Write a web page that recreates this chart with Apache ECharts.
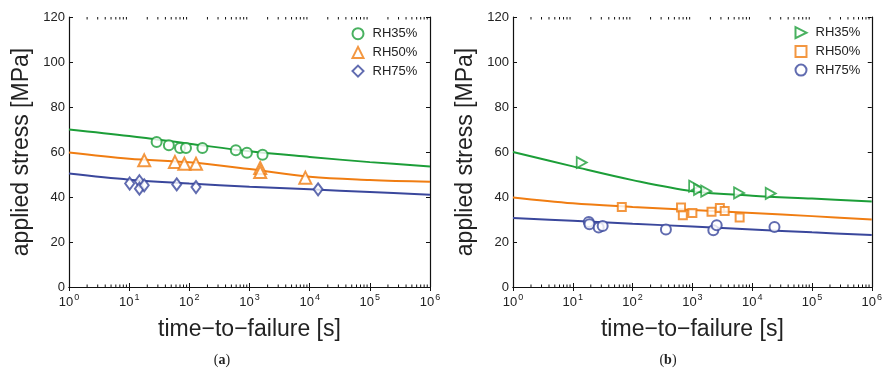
<!DOCTYPE html>
<html><head><meta charset="utf-8">
<script src="https://cdn.jsdelivr.net/npm/echarts@6/dist/echarts.min.js"></script>
<style>html,body{margin:0;padding:0;background:#fff}#c{width:885px;height:376px}</style>
</head><body><div id="c"></div>
<script>
// ---- shared axis data ----
const fitT = [1, 10, 100, 1e3, 1e4, 1e5, 1e6];
const xTickExp = ['0', '1', '2', '3', '4', '5', '6'];
const yMin = 0, yMax = 120, yStep = 20;
const legendNames = ['RH35%', 'RH50%', 'RH75%'];

// ---- panel (a) ----
const a35_t = [28.6, 45.7, 70, 88, 165, 593, 906, 1648];
const a35_s = [64.4, 63.0, 61.8, 61.8, 61.8, 60.8, 59.7, 58.8];
const a50_t = [17.8, 57.6, 82.6, 129, 1507, 1507, 8470];
const a50_s = [56.3, 55.6, 54.8, 54.8, 52.9, 51.1, 48.6];
const a75_t = [10.2, 14.8, 14.8, 17.8, 61.7, 129, 13800];
const a75_s = [46.0, 47.0, 43.7, 45.2, 45.6, 44.4, 43.4];
const a35_fit = [70, 67.1, 63.7, 60.3, 57.8, 55.5, 53.6];
const a50_fit = [59.8, 57.0, 55.4, 52.4, 49.0, 47.6, 46.8];
const a75_fit = [50.4, 47.7, 46.0, 44.6, 43.4, 42.2, 41.0];

// ---- panel (b) ----
const b35_t = [14.1, 1070, 1290, 1700, 6030, 20400];
const b35_s = [55.3, 44.8, 43.4, 42.6, 41.8, 41.6];
const b50_t = [66, 646, 692, 1000, 2090, 2880, 3470, 6170];
const b50_s = [35.6, 35.3, 31.9, 32.9, 33.5, 35.1, 33.8, 30.9];
const b75_t = [18.5, 19, 27.1, 31.6, 361, 2240, 2550, 23600];
const b75_s = [28.9, 27.9, 26.4, 27.1, 25.6, 25.2, 27.4, 26.7];
const b35_fit = [60, 53.6, 47.5, 42.6, 40.6, 39.3, 38.0];
const b50_fit = [39.8, 37.2, 35.6, 34.2, 32.9, 31.5, 30.0];
const b75_fit = [30.7, 29.4, 28.1, 26.9, 25.6, 24.3, 23.1];

const GREEN = '#1c9e38', ORANGE = '#f07d12', BLUE = '#3a479c';
const AX = '#111', TXT = '#222';
const RIGHT_TRI = 'path://M0,0L10,5L0,10Z';

const zip = (a, b) => a.map((v, i) => [v, b[i]]);
const minorT = [];
for (let k = 0; k < 6; k++) for (let m = 2; m <= 9; m++) minorT.push([m * Math.pow(10, k), 0]);

const grids = [
  { left: 69, top: 17, width: 361, height: 270 },
  { left: 513, top: 17, width: 360, height: 270 }
];

const xAxes = [], yAxes = [];
[0, 1].forEach(g => {
  xAxes.push({
    type: 'log', logBase: 10, min: 1, max: 1e6, gridIndex: g, position: 'bottom',
    axisLine: { lineStyle: { color: AX, width: 1.2 } },
    axisTick: { inside: true, length: 4, lineStyle: { color: AX, width: 1 } },
    splitLine: { show: false },
    axisLabel: {
      margin: 6, color: TXT,
      formatter: v => '{b|10}{s|' + xTickExp[Math.round(Math.log10(v))] + '}',
      rich: {
        b: { fontSize: 13, color: TXT, fontFamily: 'Liberation Sans', lineHeight: 16, verticalAlign: 'bottom' },
        s: { fontSize: 9, color: TXT, fontFamily: 'Liberation Sans', lineHeight: 16, verticalAlign: 'top', padding: [0, 0, 0, 1] }
      }
    },
    name: 'time\u2212to\u2212failure [s]', nameLocation: 'middle', nameGap: 31,
    nameTextStyle: { fontSize: 23, color: TXT, fontFamily: 'Liberation Sans' }
  });
  xAxes.push({
    type: 'log', logBase: 10, min: 1, max: 1e6, gridIndex: g, position: 'top',
    axisLine: { lineStyle: { color: AX, width: 1.2 } },
    axisTick: { inside: true, length: 4, lineStyle: { color: AX, width: 1 } },
    axisLabel: { show: false }, splitLine: { show: false }
  });
  yAxes.push({
    type: 'value', min: yMin, max: yMax, interval: yStep, gridIndex: g, position: 'left',
    axisLine: { show: true, lineStyle: { color: AX, width: 1.2 } },
    axisTick: { show: true, inside: true, length: 4, lineStyle: { color: AX, width: 1 } },
    splitLine: { show: false },
    axisLabel: { margin: 4, fontSize: 13, color: TXT, fontFamily: 'Liberation Sans' },
    name: 'applied stress [MPa]', nameLocation: 'middle', nameGap: 36, nameRotate: 90,
    nameTextStyle: { fontSize: 23, color: TXT, fontFamily: 'Liberation Sans' }
  });
  yAxes.push({
    type: 'value', min: yMin, max: yMax, interval: yStep, gridIndex: g, position: 'right',
    axisLine: { show: true, lineStyle: { color: AX, width: 1.2 } },
    axisTick: { show: true, inside: true, length: 4, lineStyle: { color: AX, width: 1 } },
    splitLine: { show: false }, axisLabel: { show: false }
  });
});

function fitLine(name, data, color, g) {
  return {
    type: 'line', name: name, xAxisIndex: g * 2, yAxisIndex: g * 2,
    data: zip(fitT, data), smooth: 0.35, showSymbol: false, symbol: 'none',
    lineStyle: { color: color, width: 2 }, z: 2, silent: true
  };
}
function pts(name, t, s, color, g, symbol, size, fill) {
  return {
    type: 'scatter', name: name, xAxisIndex: g * 2, yAxisIndex: g * 2,
    data: zip(t, s), symbol: symbol, symbolSize: size,
    itemStyle: { color: fill || color, borderColor: color, borderWidth: 1.8 }, z: 3
  };
}
function minorTicks(g) {
  return {
    type: 'custom', xAxisIndex: g * 2, yAxisIndex: g * 2, data: minorT, silent: true, z: 4, clip: false,
    renderItem: (params, api) => {
      const x = api.value(0);
      const pb = api.coord([x, yMin]);
      const pt = api.coord([x, yMax]);
      return {
        type: 'group', children: [
          { type: 'line', shape: { x1: pb[0], y1: pb[1], x2: pb[0], y2: pb[1] - 2.5 }, style: { stroke: AX, lineWidth: 1 } },
          { type: 'line', shape: { x1: pt[0], y1: pt[1], x2: pt[0], y2: pt[1] + 2.5 }, style: { stroke: AX, lineWidth: 1 } }
        ]
      };
    }
  };
}

const sp = ' ';
const series = [
  fitLine('fa35', a35_fit, GREEN, 0), fitLine('fa50', a50_fit, ORANGE, 0), fitLine('fa75', a75_fit, BLUE, 0),
  pts(legendNames[0], a35_t, a35_s, GREEN, 0, 'emptyCircle', 10),
  pts(legendNames[1], a50_t, a50_s, ORANGE, 0, 'emptyTriangle', 12),
  pts(legendNames[2], a75_t, a75_s, BLUE, 0, 'emptyDiamond', [9, 12]),
  fitLine('fb35', b35_fit, GREEN, 1), fitLine('fb50', b50_fit, ORANGE, 1), fitLine('fb75', b75_fit, BLUE, 1),
  pts(legendNames[0] + sp, b35_t, b35_s, GREEN, 1, RIGHT_TRI, [10, 11], '#fff'),
  pts(legendNames[1] + sp, b50_t, b50_s, ORANGE, 1, 'emptyRect', 8),
  pts(legendNames[2] + sp, b75_t, b75_s, BLUE, 1, 'emptyCircle', 10),
  minorTicks(0), minorTicks(1)
];

const legendBase = {
  orient: 'vertical', padding: 0, itemWidth: 11, itemHeight: 11, itemGap: 5.7,
  selectedMode: false,
  formatter: n => n.trim(),
  textStyle: { fontSize: 13, color: TXT, fontFamily: 'Liberation Sans', lineHeight: 11, padding: [0, 0, 0, 4] }
};

const option = {
  backgroundColor: '#fff', animation: false,
  grid: grids, xAxis: xAxes, yAxis: yAxes, series: series,
  legend: [
    Object.assign({}, legendBase, { left: 351.5, top: 27.2, data: legendNames }),
    Object.assign({}, legendBase, { left: 794.5, top: 26.2, data: legendNames.map(n => n + sp) })
  ],
  graphic: [
    { type: 'text', style: { text: '({b|a})', x: 222, y: 360, align: 'center', verticalAlign: 'middle', font: '14px "Liberation Serif"', fill: TXT, rich: { b: { fontWeight: 'bold', fontSize: 14, fontFamily: 'Liberation Serif', fill: TXT } } } },
    { type: 'text', style: { text: '({b|b})', x: 668, y: 360, align: 'center', verticalAlign: 'middle', font: '14px "Liberation Serif"', fill: TXT, rich: { b: { fontWeight: 'bold', fontSize: 14, fontFamily: 'Liberation Serif', fill: TXT } } } }
  ]
};

const chart = echarts.init(document.getElementById('c'), null, { renderer: 'canvas' });
chart.setOption(option);
</script>
</body></html>
